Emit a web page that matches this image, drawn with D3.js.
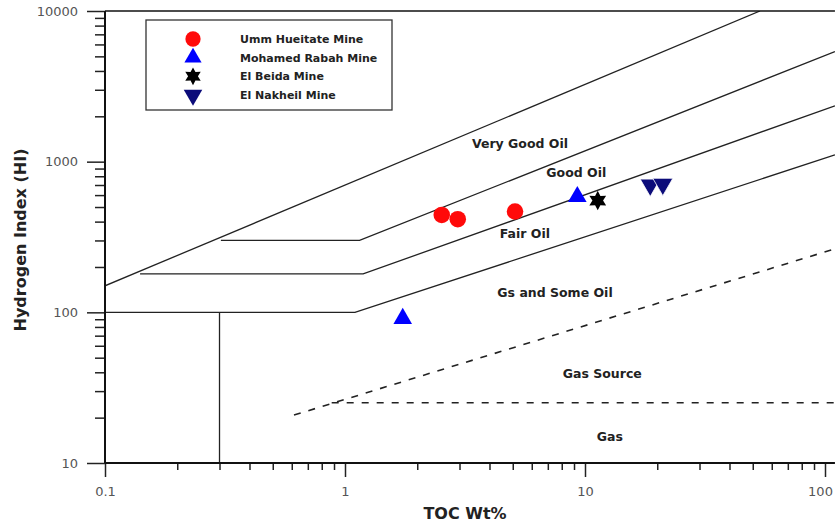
<!DOCTYPE html>
<meta charset="utf-8">
<script src="https://cdn.jsdelivr.net/npm/d3@7"></script>
<style>
body { margin: 0; background: #fff; }
.zone { fill: none; stroke: #222; stroke-width: 1.3px; }
.dash { fill: none; stroke: #222; stroke-width: 1.6px; stroke-dasharray: 7 8; }
.tick text { font-family: "DejaVu Sans", sans-serif; font-size: 13px; fill: #555; }
.lbl { font-family: "DejaVu Sans", sans-serif; font-weight: bold; font-size: 12.5px; fill: #222; }
.title { font-family: "DejaVu Sans", sans-serif; font-weight: bold; font-size: 16px; fill: #222; }
.leg { font-family: "DejaVu Sans", sans-serif; font-weight: bold; font-size: 11px; fill: #222; }
</style>
<body>
<script>
// samples: [TOC wt%, HI]
var ummHueitate = [[2.53, 443], [2.95, 415], [5.11, 467]];
var mohamedRabah = [[9.29, 586], [1.74, 91]];
var elBeida = [[11.3, 552]];
var elNakheil = [[18.7, 701], [21.1, 710]];

// boundary lines of the kerogen zones
var veryGoodLine = [[0.1, 150], [53.6, 10000]];
var goodLine = [[0.304, 300], [1.15, 300], [110, 5385]];
var fairLine = [[0.14, 180], [1.19, 180], [110, 2349]];
var someOilLine = [[0.1, 100], [1.10, 100], [110, 1110]];
var lowTocLine = [[0.3, 100], [0.3, 10]];
var gasSourceLine = [[0.613, 20.8], [110, 264]];
var gasLine = [[0.88, 25.1], [110, 25.1]];

var zoneNames = ["Very Good Oil", "Good Oil", "Fair Oil", "Gs and Some Oil", "Gas Source", "Gas"];
var zoneTOC = [5.36, 9.2, 5.62, 7.5, 11.8, 12.7];
var zoneHI = [1327, 850, 335, 136, 39, 14.9];

var xTicks = [0.1, 1, 10, 100];
var yTicks = [10, 100, 1000, 10000];
var legendNames = ["Umm Hueitate Mine", "Mohamed Rabah Mine", "El Beida Mine", "El Nakheil Mine"];

var width = 835, height = 525;
var x = d3.scaleLog().domain([0.1, 100]).range([105, 825]);
var y = d3.scaleLog().domain([10, 10000]).range([463, 11]);
var xEnd = x(110);

var svg = d3.select("body").append("svg")
    .attr("width", width)
    .attr("height", height);

svg.append("defs").append("clipPath").attr("id", "plot")
  .append("rect").attr("x", 105).attr("y", 11).attr("width", xEnd - 105).attr("height", 452);

var line = d3.line()
    .x(function(d) { return x(d[0]); })
    .y(function(d) { return y(d[1]); });

var g = svg.append("g").attr("clip-path", "url(#plot)");
[veryGoodLine, goodLine, fairLine, someOilLine, lowTocLine].forEach(function(l) {
  g.append("path").datum(l).attr("class", "zone").attr("d", line);
});
[gasSourceLine, gasLine].forEach(function(l) {
  g.append("path").datum(l).attr("class", "dash").attr("d", line);
});

// zone labels
svg.selectAll(".lbl")
    .data(zoneNames)
  .enter().append("text")
    .attr("class", "lbl")
    .attr("x", function(d, i) { return x(zoneTOC[i]); })
    .attr("y", function(d, i) { return y(zoneHI[i]); })
    .attr("dy", "0.36em")
    .attr("text-anchor", "middle")
    .text(function(d) { return d; });

// axes: minor ticks first then major
var minorX = [];
var minorY = [];
[0.1, 1, 10].forEach(function(d) { for (var k = 2; k <= 9; k++) minorX.push(d * k); });
[10, 100, 1000].forEach(function(d) { for (var k = 2; k <= 9; k++) minorY.push(d * k); });

function styleAxis(sel) {
  sel.select(".domain").remove();
  sel.selectAll("line").attr("stroke", "#222").attr("stroke-width", 1.5);
}

svg.append("g").attr("transform", "translate(0,463)")
    .call(d3.axisBottom(x).tickValues(minorX).tickSize(7).tickFormat(""))
    .call(styleAxis);
var xAxis = svg.append("g").attr("transform", "translate(0,463)")
    .call(d3.axisBottom(x).tickValues(xTicks).tickSize(14).tickPadding(10).tickFormat(d3.format("~g")))
    .call(styleAxis);
// last label sits on the window edge
xAxis.selectAll(".tick text").filter(function(d) { return d === 100; }).attr("dx", "-5");

svg.append("g").attr("transform", "translate(105,0)")
    .call(d3.axisLeft(y).tickValues(minorY).tickSize(10).tickFormat(""))
    .call(styleAxis);
svg.append("g").attr("transform", "translate(105,0)")
    .call(d3.axisLeft(y).tickValues(yTicks).tickSize(18).tickPadding(9).tickFormat(d3.format("d")))
    .call(styleAxis);

// frame lines
svg.append("line").attr("x1", 105).attr("x2", 105).attr("y1", 11).attr("y2", 463)
    .attr("stroke", "#111").attr("stroke-width", 2);
svg.append("line").attr("x1", 105).attr("x2", xEnd).attr("y1", 463).attr("y2", 463)
    .attr("stroke", "#111").attr("stroke-width", 2);
svg.append("line").attr("x1", 105).attr("x2", xEnd).attr("y1", 11).attr("y2", 11)
    .attr("stroke", "#111").attr("stroke-width", 1.5);

svg.append("text").attr("class", "title")
    .attr("x", (x(1) + x(10)) / 2).attr("y", 519)
    .attr("text-anchor", "middle")
    .text("TOC Wt%");
svg.append("text").attr("class", "title")
    .attr("transform", "translate(26,240) rotate(-90)")
    .attr("text-anchor", "middle")
    .text("Hydrogen Index (HI)");

// six-pointed star
var star6 = {
  draw: function(ctx, size) {
    var r = Math.sqrt(size / 1.6), ri = r * 0.55;
    for (var i = 0; i < 12; i++) {
      var a = -Math.PI / 2 + i * Math.PI / 6;
      var rr = i % 2 ? ri : r;
      if (i === 0) ctx.moveTo(rr * Math.cos(a), rr * Math.sin(a));
      else ctx.lineTo(rr * Math.cos(a), rr * Math.sin(a));
    }
    ctx.closePath();
  }
};

var series = [
  {data: ummHueitate, type: d3.symbolCircle, size: 215, fill: "#ff0a0a", rot: 0, stroke: "none"},
  {data: mohamedRabah, type: d3.symbolTriangle, size: 150, fill: "#0000ff", rot: 0, stroke: "none"},
  {data: elBeida, type: star6, size: 150, fill: "#000", rot: 0, stroke: "none"},
  {data: elNakheil, type: d3.symbolTriangle, size: 175, fill: "#0c0c7a", rot: 180, stroke: "#fff"}
];

series.forEach(function(s) {
  svg.append("g").selectAll("path")
      .data(s.data)
    .enter().append("path")
      .attr("d", d3.symbol().type(s.type).size(s.size))
      .attr("transform", function(d) {
        return "translate(" + x(d[0]) + "," + y(d[1]) + ") rotate(" + s.rot + ")";
      })
      .attr("fill", s.fill)
      .attr("stroke", s.stroke)
      .attr("stroke-width", 0.8);
});

// legend
var leg = svg.append("g");
leg.append("rect").attr("x", 146).attr("y", 20).attr("width", 246).attr("height", 90)
    .attr("fill", "#fff").attr("stroke", "#333").attr("stroke-width", 1.3);
var legY = d3.scalePoint().domain(legendNames).range([39, 95]);
series.forEach(function(s, i) {
  leg.append("path")
      .attr("d", d3.symbol().type(s.type).size(s.size * 0.85))
      .attr("transform", "translate(193," + legY(legendNames[i]) + ") rotate(" + s.rot + ")")
      .attr("fill", s.fill);
  leg.append("text").attr("class", "leg")
      .attr("x", 240).attr("y", legY(legendNames[i])).attr("dy", "0.36em")
      .text(legendNames[i]);
});
</script>
</body>
